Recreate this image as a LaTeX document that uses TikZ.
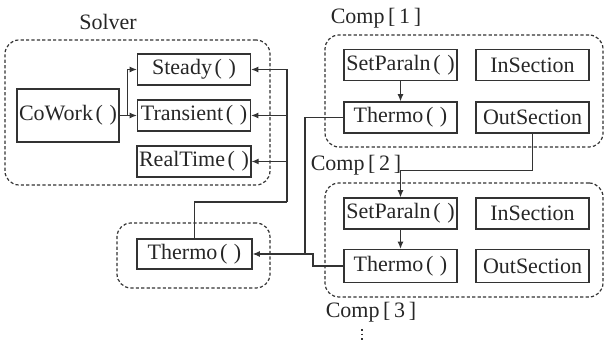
\documentclass[tikz,border=0pt]{standalone}
\usepackage{fontspec}
\setmainfont{Liberation Serif}
\usetikzlibrary{arrows.meta}

% empty argument list, set wide as in the original drawing
\newcommand{\emptyargs}{\hspace{0.12em}(\hspace{0.3em})}

\tikzset{
  box/.style={draw=black!80, line width=0.6pt, minimum width=56.5pt, minimum height=15.5pt, inner sep=1pt},
  group/.style={draw=black!80, line width=0.6pt, dash pattern=on 1.6pt off 1.1pt, rounded corners=7pt},
  link/.style={draw=black!80, line width=0.6pt},
  arr/.style={link, -{Latex[length=3.6pt,width=3pt]}},
}

\begin{document}
\begin{tikzpicture}[x=0.5pt,y=-0.5pt,font=\fontsize{11}{13}\selectfont,text=black!85]
\useasboundingbox (0,0) rectangle (605,340);

% dashed groups
\node[group, minimum width=132.5pt, minimum height=72.5pt] (solver) at (137.5,112.5) {};
\node[group, minimum width=139pt, minimum height=56pt] (comp1) at (464,91) {};
\node[group, minimum width=139pt, minimum height=57pt] (comp2) at (464,240) {};
\node[group, minimum width=76.5pt, minimum height=32.5pt] (gthermo) at (193.5,255.5) {};

% group titles
\node (solverlbl) at (108,22) {Solver};
\node (comp1lbl) at (376,18) {Comp\,[\,1\,]};
\node (comp2lbl) at (356,165) {Comp\,[\,2\,]};
\node (comp3lbl) at (371,312) {Comp\,[\,3\,]};

% solver
\node[box, minimum width=47pt, minimum height=26.5pt] (cowork) at (68,115.5) {CoWork\emptyargs};
\node[box] (steady) at (194,69.5) {Steady\emptyargs};
\node[box] (transient) at (194,115.5) {Transient\emptyargs};
\node[box] (realtime) at (194,161.5) {RealTime\emptyargs};

% comp 1
\node[box] (setpara1) at (400.5,65) {SetParaln\emptyargs};
\node[box] (insec1) at (532.5,65) {InSection};
\node[box] (thermo1) at (400.5,117.5) {Thermo\emptyargs};
\node[box] (outsec1) at (532.5,117.5) {OutSection};

% comp 2
\node[box] (setpara2) at (400.5,213.5) {SetParaln\emptyargs};
\node[box] (insec2) at (532.5,213.5) {InSection};
\node[box, minimum height=16.5pt] (thermo2) at (400.5,266) {Thermo\emptyargs};
\node[box, minimum height=16.5pt] (outsec2) at (532.5,266) {OutSection};

% shared thermo
\node[box, minimum width=57.5pt, minimum height=15pt] (thermo0) at (194.5,254) {Thermo\emptyargs};

% routing points
\coordinate (bus) at (287,202);
\coordinate (jn) at (305,254);
\coordinate (more) at (362,341);

% solver calls
\draw[arr] (cowork.east) -- (transient.west);
\draw[arr] ([xshift=4pt]cowork.east) |- (steady.west);

% shared thermo feeds the solver
\draw[link] (thermo0.north) |- (bus);
\draw[arr] (bus) |- (steady.east);
\draw[arr] (bus |- transient.east) -- (transient.east);
\draw[arr] (bus |- realtime.east) -- (realtime.east);

% component thermo to shared thermo
\draw[arr] (thermo1.west) -| (jn) -- (thermo0.east);
\draw[link] (thermo2.west) -| ([xshift=4pt]jn) -- (jn);

% inside the components
\draw[arr] (setpara1.south) -- (thermo1.north);
\draw[arr] (setpara2.south) -- (thermo2.north);
\draw[arr] (outsec1.south) |- ([yshift=13.5pt]setpara2.north) -- (setpara2.north);

% more components follow
\draw[link, dash pattern=on 0.8pt off 1.5pt] (more |- 0,329) -- (more);
\end{tikzpicture}
\end{document}
